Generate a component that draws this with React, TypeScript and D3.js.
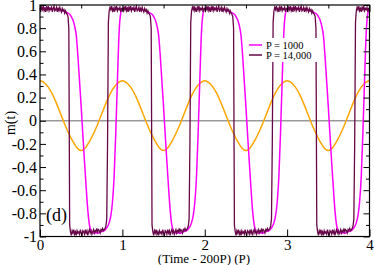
import React, { useEffect, useRef } from "react";
import * as d3 from "d3";

// x axis: (Time - 200P) in units of P
const periods = [0, 1, 2, 3];
const xTicks = [0, 1, 2, 3, 4];
const xMinorTicks = [0.5, 1.5, 2.5, 3.5];
const yTicks = [-1, -0.8, -0.6, -0.4, -0.2, 0, 0.2, 0.4, 0.6, 0.8, 1];
const yMinorTicks = [-0.9, -0.7, -0.5, -0.3, -0.1, 0.1, 0.3, 0.5, 0.7, 0.9];

// one period of m(t) for P = 1000, read every 0.02 P
const p1000Step = 0.02;
const p1000 = [
  0.97, 0.975, 0.965, 0.975, 0.97, 0.965, 0.975, 0.965, 0.97, 0.96,
  0.965, 0.955, 0.96, 0.95, 0.95, 0.945, 0.935, 0.93, 0.92, 0.9,
  0.87, 0.82, 0.74, 0.56, 0.34, 0.12, -0.12, -0.35, -0.57, -0.77,
  -0.9, -0.95, -0.965, -0.975, -0.965, -0.975, -0.965, -0.96, -0.955, -0.95,
  -0.935, -0.915, -0.88, -0.82, -0.7, -0.48, -0.1, 0.35, 0.76, 0.93,
];

// one period of m(t) for P = 14,000, read every 0.01 P (noisy plateaus)
const p14000Step = 0.01;
const p14000 = [
  0.97, 0.95, 0.98, 0.96, 0.99, 0.95, 0.97, 0.94, 0.98, 0.96,
  0.99, 0.95, 0.97, 0.96, 0.98, 0.94, 0.97, 0.99, 0.95, 0.96,
  0.98, 0.94, 0.97, 0.95, 0.98, 0.96, 0.94, 0.97, 0.95, 0.96,
  0.93, 0.95, 0.93, 0.92, 0.9, 0.8, -0.9, -0.96, -0.99, -0.95,
  -0.97, -0.94, -0.98, -0.96, -0.99, -0.95, -0.97, -0.96, -0.98, -0.94,
  -0.97, -0.99, -0.95, -0.96, -0.98, -0.94, -0.97, -0.95, -0.99, -0.96,
  -0.94, -0.97, -0.95, -0.98, -0.96, -0.94, -0.97, -0.95, -0.96, -0.93,
  -0.96, -0.94, -0.95, -0.97, -0.94, -0.95, -0.93, -0.95, -0.94, -0.93,
  -0.91, -0.85, -0.2, 0.85, 0.95, 0.98, 0.96, 0.99, 0.95, 0.97,
  0.94, 0.98, 0.96, 0.99, 0.95, 0.97, 0.96, 0.98, 0.94, 0.97,
];

// one period of the driving field, read every 0.05 P
const fieldStep = 0.05;
const field = [
  0.345, 0.33, 0.29, 0.23, 0.15, 0.06, -0.03, -0.11, -0.18, -0.235,
  -0.257, -0.235, -0.18, -0.11, -0.03, 0.06, 0.15, 0.23, 0.29, 0.33,
];

const legendLabels = ["P = 1000", "P = 14,000"];
const legendColors = ["#ff00ff", "#670748"];

const W = 374;
const H = 265;
const margin = { top: 5, right: 4.5, bottom: 28.5, left: 40 };
const serif = "Liberation Serif, Times New Roman, DejaVu Serif, serif";

// repeat one read period over the four periods shown
const tile = (values: number[], step: number): [number, number][] => {
  const pts: [number, number][] = [];
  periods.forEach((p) => values.forEach((v, i) => pts.push([p + i * step, v])));
  pts.push([periods.length, values[0]]);
  return pts;
};

const fmt = (d: d3.NumberValue) => String(+(+d).toFixed(1));

const App: React.FC = () => {
  const svgRef = useRef<SVGSVGElement | null>(null);

  useEffect(() => {
    const svg = d3.select(svgRef.current);
    svg.selectAll("*").remove();

    const x = d3.scaleLinear().domain([0, 4]).range([margin.left, W - margin.right]);
    const y = d3.scaleLinear().domain([-1, 1]).range([H - margin.bottom, margin.top]);

    svg.append("rect").attr("width", W).attr("height", H).attr("fill", "#fff");

    // zero line
    svg
      .append("line")
      .attr("x1", x(0))
      .attr("x2", x(4))
      .attr("y1", y(0))
      .attr("y2", y(0))
      .attr("stroke", "#9a9a9a")
      .attr("stroke-width", 1.5);

    const smooth = d3
      .line<[number, number]>()
      .x((d) => x(d[0]))
      .y((d) => y(d[1]))
      .curve(d3.curveMonotoneX);
    const straight = d3
      .line<[number, number]>()
      .x((d) => x(d[0]))
      .y((d) => y(d[1]));

    svg
      .append("path")
      .attr("d", smooth(tile(field, fieldStep))!)
      .attr("fill", "none")
      .attr("stroke", "#ffa500")
      .attr("stroke-width", 1.5);

    svg
      .append("path")
      .attr("d", smooth(tile(p1000, p1000Step))!)
      .attr("fill", "none")
      .attr("stroke", legendColors[0])
      .attr("stroke-width", 1.5);

    svg
      .append("path")
      .attr("d", straight(tile(p14000, p14000Step))!)
      .attr("fill", "none")
      .attr("stroke", legendColors[1])
      .attr("stroke-width", 1.3);

    // legend
    const lg = svg.append("g");
    lg.append("rect")
      .attr("x", 246)
      .attr("y", 38)
      .attr("width", 72)
      .attr("height", 24)
      .attr("fill", "#fff");
    legendLabels.forEach((label, i) => {
      const ly = 45 + i * 10;
      lg.append("line")
        .attr("x1", 249)
        .attr("x2", 262)
        .attr("y1", ly)
        .attr("y2", ly)
        .attr("stroke", legendColors[i])
        .attr("stroke-width", 1.5);
      lg.append("text")
        .attr("x", 266)
        .attr("y", ly + 3.5)
        .style("font-family", serif)
        .style("font-size", "10.5px")
        .text(label);
    });

    // frame
    svg
      .append("rect")
      .attr("x", x(0))
      .attr("y", y(1))
      .attr("width", x(4) - x(0))
      .attr("height", y(-1) - y(1))
      .attr("fill", "none")
      .attr("stroke", "#000")
      .attr("stroke-width", 1.2);

    const addAxis = (
      axis: d3.Axis<d3.NumberValue>,
      tx: number,
      ty: number,
      fontSize: number | null
    ) => {
      const g = svg
        .append("g")
        .attr("transform", `translate(${tx},${ty})`)
        .call(axis);
      g.select(".domain").remove();
      if (fontSize === null) {
        g.selectAll("text").remove();
        return;
      }
      g.attr("font-family", serif).attr("font-size", fontSize);
      g.selectAll("text").attr("fill", "#000");
    };

    addAxis(d3.axisBottom(x).tickValues(xTicks).tickSize(-7).tickPadding(2.5).tickFormat(fmt), 0, y(-1), 15);
    addAxis(d3.axisBottom(x).tickValues(xMinorTicks).tickSize(-3.5), 0, y(-1), null);
    addAxis(d3.axisTop(x).tickValues(xTicks).tickSize(-7), 0, y(1), null);
    addAxis(d3.axisTop(x).tickValues(xMinorTicks).tickSize(-3.5), 0, y(1), null);
    addAxis(d3.axisLeft(y).tickValues(yTicks).tickSize(-6).tickPadding(3).tickFormat(fmt), x(0), 0, 16);
    addAxis(d3.axisLeft(y).tickValues(yMinorTicks).tickSize(-3.5), x(0), 0, null);
    addAxis(d3.axisRight(y).tickValues(yTicks).tickSize(-6), x(4), 0, null);
    addAxis(d3.axisRight(y).tickValues(yMinorTicks).tickSize(-3.5), x(4), 0, null);

    // titles
    svg
      .append("text")
      .attr("x", 204)
      .attr("y", 263)
      .attr("text-anchor", "middle")
      .style("font-family", serif)
      .style("font-size", "13px")
      .text("(Time - 200P) (P)");
    svg
      .append("text")
      .attr("transform", "translate(15,123) rotate(-90)")
      .attr("text-anchor", "middle")
      .style("font-family", serif)
      .style("font-size", "14px")
      .text("m(t)");
    svg
      .append("text")
      .attr("x", 46)
      .attr("y", 221)
      .style("font-family", serif)
      .style("font-size", "18px")
      .text("(d)");
  }, []);

  return (
    <svg
      ref={svgRef}
      width={W}
      height={H}
      style={{ position: "absolute", left: 0, top: 0 }}
    ></svg>
  );
};

export default App;
